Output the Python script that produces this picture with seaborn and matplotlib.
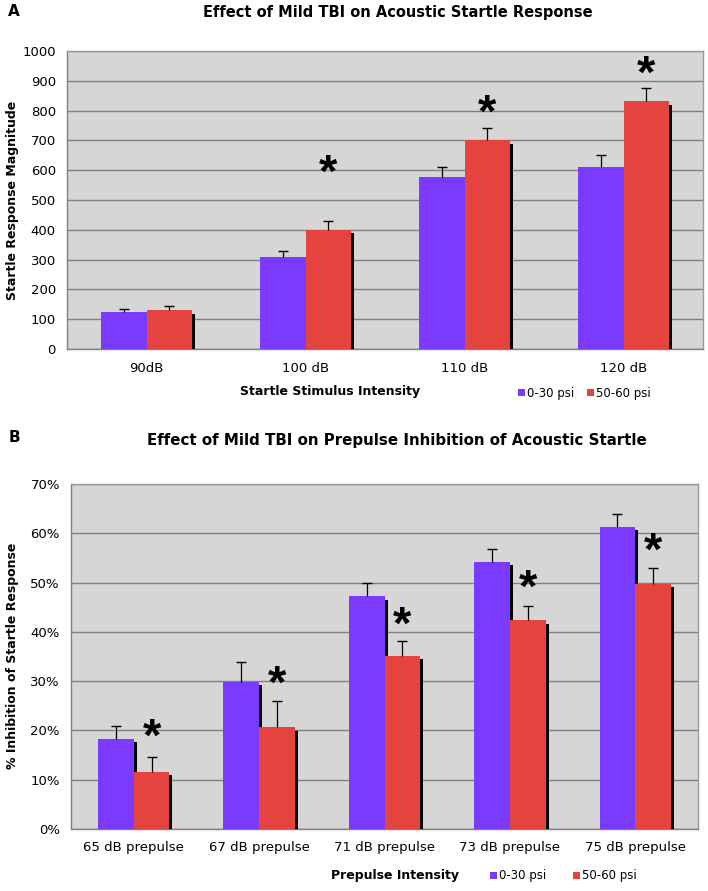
import numpy as np
import pandas as pd
import matplotlib
matplotlib.use("Agg")
import matplotlib.pyplot as plt
import matplotlib.patheffects as pe
from matplotlib.patches import Patch
from matplotlib.transforms import offset_copy
import seaborn as sns

groups = ["0-30 psi", "50-60 psi"]
colors = ["#7b3bff", "#e5433d"]

# panel A: startle magnitude
startle_levels = ["90dB", "100 dB", "110 dB", "120 dB"]
startle_mild = [123, 310, 577, 612]
startle_mild_err = [10, 20, 35, 38]
startle_mod = [130, 400, 700, 831]
startle_mod_err = [13, 28, 42, 46]
startle_star_y = [np.nan, 620, 820, 950]

# panel B: prepulse inhibition (%)
ppi_levels = ["65 dB prepulse", "67 dB prepulse", "71 dB prepulse",
              "73 dB prepulse", "75 dB prepulse"]
ppi_mild = [18.3, 29.9, 47.2, 54.2, 61.3]
ppi_mild_err = [2.5, 3.9, 2.8, 2.6, 2.6]
ppi_mod = [11.6, 20.6, 35.1, 42.4, 49.8]
ppi_mod_err = [3.0, 5.4, 3.1, 2.9, 3.1]
ppi_star_y = [20.3, 31.2, 43.0, 50.5, 58.0]

sns.set_style("white")
plt.rcParams["font.family"] = ["DejaVu Sans"]
plt.rcParams["text.color"] = "black"
plt.rcParams["xtick.color"] = "black"
plt.rcParams["ytick.color"] = "black"


def long_df(levels, a, b):
    return pd.DataFrame({
        "level": levels * 2,
        "value": list(a) + list(b),
        "group": [groups[0]] * len(levels) + [groups[1]] * len(levels),
    })


def panel(ax, levels, a, a_err, b, b_err, star_y, ylim, step):
    df = long_df(levels, a, b)
    sns.barplot(data=df, x="level", y="value", hue="group", palette=colors,
                width=0.57, saturation=1, errorbar=None, legend=False,
                zorder=3, ax=ax)
    shadow = [pe.SimplePatchShadow(offset=(2.2, -2.5), shadow_rgbFace="black",
                                   alpha=1.0), pe.Normal()]
    n = len(levels)
    errs = np.array(list(a_err) + list(b_err))
    vals = np.array(list(a) + list(b))
    xs = []
    for p in ax.patches[:2 * n]:
        p.set_path_effects(shadow)
        p.set_edgecolor("none")
        xs.append(p.get_x() + p.get_width() / 2)
    xs = np.array(xs)
    # upper error bars only, capped at the top
    ax.vlines(xs, vals, vals + errs, color="black", linewidth=0.9, zorder=4)
    ax.plot(xs, vals + errs, ls="none", marker="_", markersize=7,
            markeredgewidth=1.0, color="black", zorder=4)
    star_tr = offset_copy(ax.transData, fig=ax.figure, y=-10, units="dots")
    for x, y in zip(xs[n:], star_y):
        if not np.isnan(y):
            ax.text(x, y, "*", ha="center", va="center", fontsize=34,
                    fontweight="bold", family="Liberation Sans",
                    transform=star_tr, zorder=5)

    ax.set_facecolor("#d6d6d6")
    ax.set_ylim(*ylim)
    ax.set_xlim(-0.5, n - 0.5)
    ax.set_yticks(np.arange(ylim[0], ylim[1] + step / 2, step))
    ax.yaxis.grid(True, color="#808080", linewidth=1.0, zorder=0)
    ax.set_axisbelow(True)
    for s in ["top", "right"]:
        ax.spines[s].set_color("#9a9a9a")
        ax.spines[s].set_linewidth(1.0)
    for s in ["left", "bottom"]:
        ax.spines[s].set_color("#808080")
        ax.spines[s].set_linewidth(1.0)
    ax.tick_params(axis="y", length=4, width=1, color="#808080",
                   labelsize=9.5, pad=4)
    ax.tick_params(axis="x", which="major", length=0, labelsize=9.5, pad=9)
    ax.set_xticks(np.arange(-0.5, n), minor=True)
    ax.tick_params(axis="x", which="minor", length=5, width=1,
                   color="#808080", direction="out")
    ax.set_xlabel("")
    ax.set_ylabel("")


fig = plt.figure(figsize=(7.08, 8.91), dpi=100)

axA = fig.add_axes([67 / 708, 1 - 349 / 891, 636 / 708, 298 / 891])
panel(axA, startle_levels, startle_mild, startle_mild_err, startle_mod,
      startle_mod_err, startle_star_y, (0, 1000), 100)

axB = fig.add_axes([71 / 708, 1 - 829 / 891, 627 / 708, 345 / 891])
panel(axB, ppi_levels, ppi_mild, ppi_mild_err, ppi_mod, ppi_mod_err,
      ppi_star_y, (0, 70), 10)
axB.set_yticks(axB.get_yticks())
axB.set_yticklabels([f"{int(t)}%" for t in axB.get_yticks()])

# titles, panel letters, axis labels
fig.text(14 / 708, 1 - 12 / 891, "A", fontsize=11, fontweight="bold",
         ha="center", va="center")
fig.text(398 / 708, 1 - 13 / 891, "Effect of Mild TBI on Acoustic Startle Response",
         fontsize=10.5, fontweight="bold", ha="center", va="center")
fig.text(14 / 708, 1 - 437 / 891, "B", fontsize=11, fontweight="bold",
         ha="center", va="center")
fig.text(397 / 708, 1 - 440 / 891,
         "Effect of Mild TBI on Prepulse Inhibition of Acoustic Startle",
         fontsize=10.8, fontweight="bold", ha="center", va="center")

fig.text(13 / 708, 1 - 200 / 891, "Startle Response Magnitude", rotation=90,
         fontsize=9, fontweight="bold", ha="center", va="center")
fig.text(13 / 708, 1 - 656 / 891, "% Inhibition of Startle Response",
         rotation=90, fontsize=9, fontweight="bold", ha="center", va="center")
fig.text(330 / 708, 1 - 392 / 891, "Startle Stimulus Intensity", fontsize=9,
         fontweight="bold", ha="center", va="center")
fig.text(395 / 708, 1 - 876 / 891, "Prepulse Intensity", fontsize=9,
         fontweight="bold", ha="center", va="center")

handles = [Patch(facecolor=c, edgecolor="none") for c in colors]
fig.legend(handles, groups, loc="center left",
           bbox_to_anchor=(518 / 708, 1 - 393 / 891), ncol=2, frameon=False,
           fontsize=8.5, handlelength=0.6, handleheight=0.6, handletextpad=0.2,
           columnspacing=1.0, borderpad=0, borderaxespad=0)
fig.legend(handles, groups, loc="center left",
           bbox_to_anchor=(490 / 708, 1 - 876 / 891), ncol=2, frameon=False,
           fontsize=8.5, handlelength=0.6, handleheight=0.6, handletextpad=0.2,
           columnspacing=2.2, borderpad=0, borderaxespad=0)

fig.savefig("out.png", dpi=100, facecolor="white")
